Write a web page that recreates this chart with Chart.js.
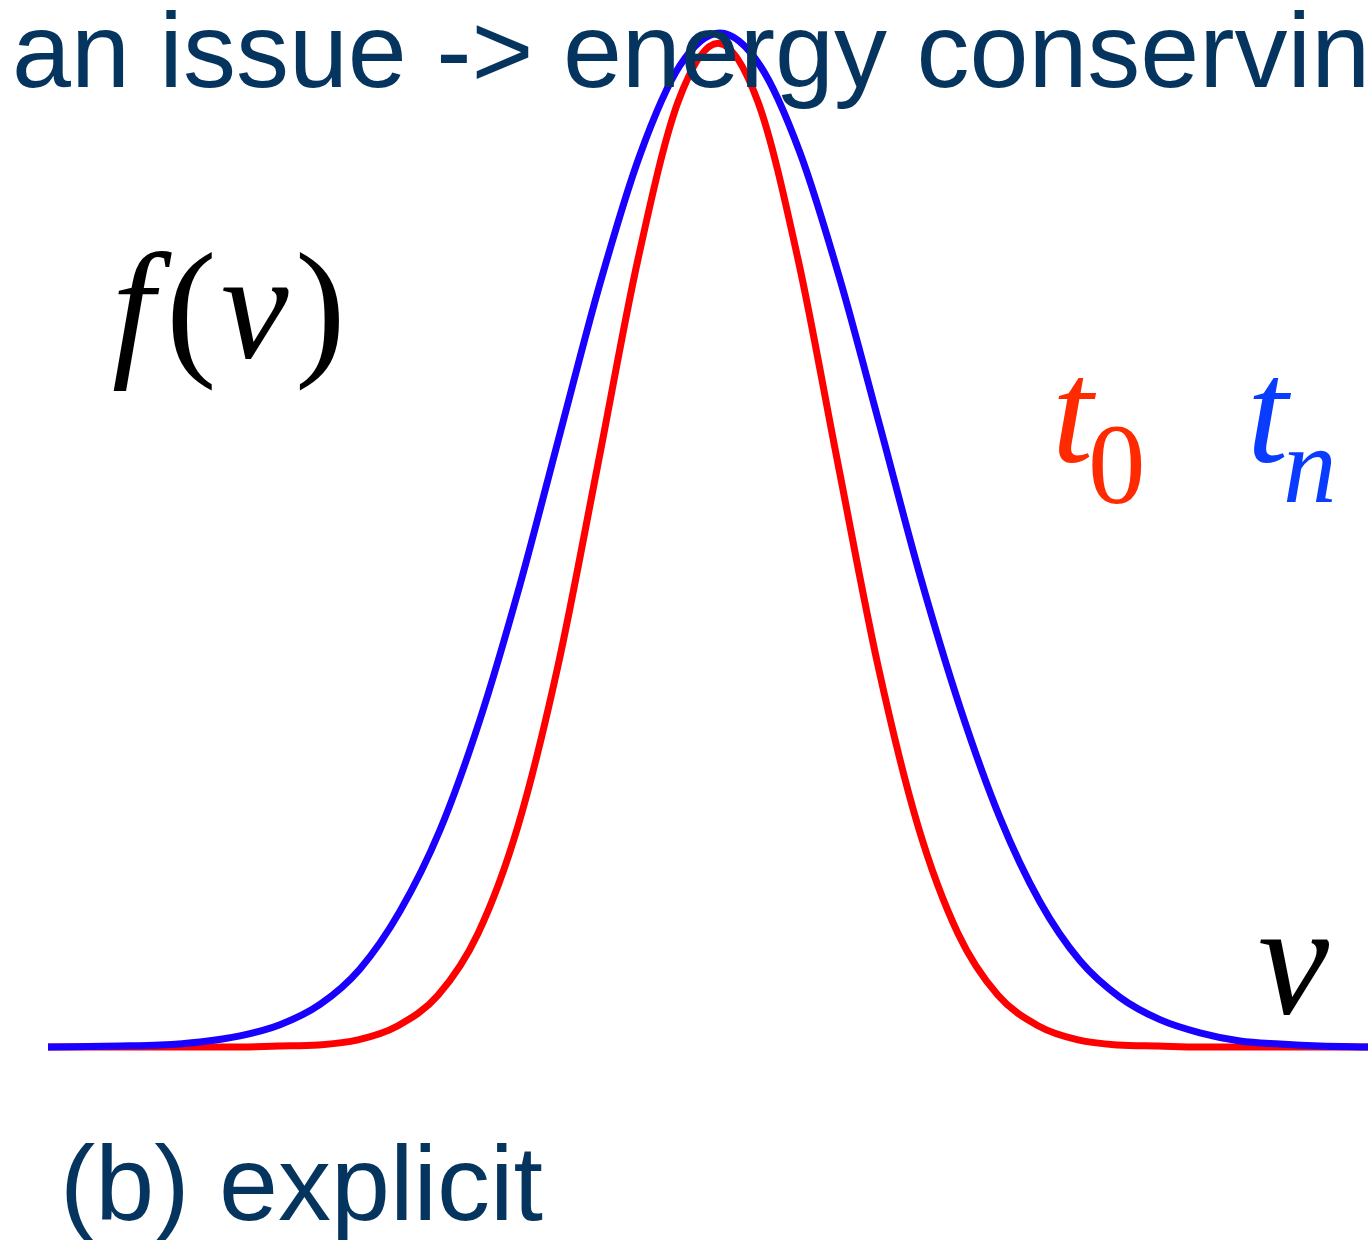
<!DOCTYPE html>
<html>
<head>
<meta charset="utf-8">
<script src="https://cdn.jsdelivr.net/npm/chart.js@4.4.0/dist/chart.umd.min.js"></script>
<style>
body{margin:0;background:#fff}
#wrap{width:1368px;height:1240px}
</style>
</head>
<body>
<div id="wrap"><canvas id="chartDistHTML" width="1368" height="1240"></canvas></div>
<script>
// v positions and f(v) (peak = 1)
const vBlue=[-6.72,-6,-5.6,-5.2,-4.8,-4.4,-4,-3.6,-3.2,-2.8,-2.4,-2,-1.6,-1.2,-0.8,-0.4,0,0.4,0.8,1.2,1.6,2,2.4,2.8,3.2,3.6,4,4.4,4.8,5.2,5.6,6,6.48]
const fBlue=[0,0.001,0.002,0.005,0.011,0.022,0.042,0.077,0.134,0.214,0.323,0.456,0.605,0.753,0.88,0.968,1,0.968,0.882,0.757,0.612,0.465,0.335,0.226,0.143,0.085,0.049,0.027,0.014,0.006,0.003,0.001,0]
const vRed=[-6.72,-5.22,-4.82,-4.42,-4.02,-3.62,-3.22,-2.82,-2.42,-2.02,-1.62,-1.22,-0.82,-0.42,-0.02,0.38,0.78,1.18,1.58,1.98,2.38,2.78,3.18,3.58,3.98,4.38,4.78,6.48]
const fRed=[0,0,0,0.001,0.002,0.007,0.021,0.051,0.112,0.218,0.376,0.575,0.777,0.932,0.99,0.932,0.777,0.575,0.376,0.218,0.112,0.051,0.021,0.007,0.002,0.001,0,0]
const seriesNames=['t_n','t_0']

function pts(xs,ys){return xs.map((x,i)=>({x:x,y:ys[i]}))}

const labelsPlugin={
 id:'labelsPlugin',
 afterDraw(chart){
  const c=chart.ctx
  c.save()
  c.textBaseline='alphabetic'
  c.textAlign='left'
  c.fillStyle='#05345f'
  c.font='106px "Liberation Sans", Arial, sans-serif'
  c.fillText('an issue -> energy conserving',12,87)
  c.fillText('(b) explicit',60,1220)
  c.fillStyle='#000'
  c.font='italic 152px "Liberation Serif", "Times New Roman", serif'
  c.fillText('f',112,358)
  c.fillText('v',221,358)
  c.font='152px "Liberation Serif", "Times New Roman", serif'
  c.fillText('(',166,358)
  c.fillText(')',295,358)
  c.font='italic 160px "Liberation Serif", "Times New Roman", serif'
  c.fillText('v',1258,1013)
  c.fillStyle='#ff2a00'
  c.font='italic 148px "Liberation Serif", "Times New Roman", serif'
  c.fillText('t',1052,462)
  c.font='115px "Liberation Serif", "Times New Roman", serif'
  c.fillText('0',1088,503)
  c.fillStyle='#0a3cff'
  c.font='italic 148px "Liberation Serif", "Times New Roman", serif'
  c.fillText('t',1247,462)
  c.font='italic 107px "Liberation Serif", "Times New Roman", serif'
  c.fillText('n',1283,502)
  c.restore()
 }
}

let chartDist=new Chart(
 document.getElementById('chartDistHTML'),
 {
  type:'line',
  data:{
   datasets:[
    {label:seriesNames[0],data:pts(vBlue,fBlue),borderColor:'#1a00ff',borderWidth:7,pointRadius:0,cubicInterpolationMode:'monotone',clip:false,order:0},
    {label:seriesNames[1],data:pts(vRed,fRed),borderColor:'#ff0000',borderWidth:7,pointRadius:0,cubicInterpolationMode:'monotone',clip:false,order:1}
   ]
  },
  options:{
   responsive:false,
   animation:false,
   layout:{padding:{left:48,right:0,top:33,bottom:193}},
   scales:{
    x:{type:'linear',min:-6.72,max:6.48,display:false},
    y:{min:0,max:1,display:false}
   },
   plugins:{legend:{display:false},tooltip:{enabled:false}}
  },
  plugins:[labelsPlugin]
 }
)
</script>
</body>
</html>
